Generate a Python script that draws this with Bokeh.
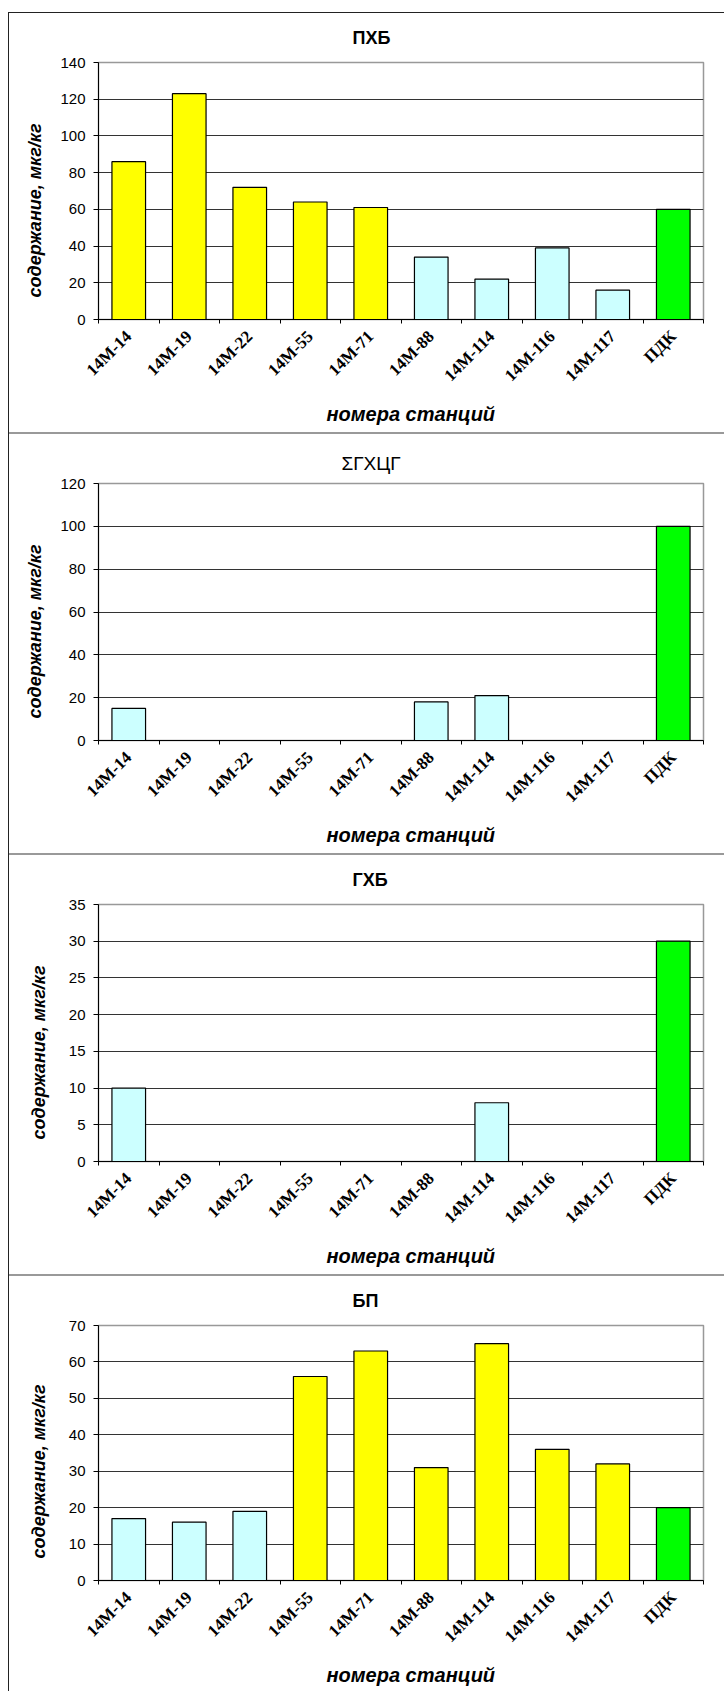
from bokeh.plotting import figure
from bokeh.models import ColumnDataSource, FixedTicker, Div, Title
from bokeh.layouts import column, row
from bokeh.embed import file_html
from bokeh.resources import INLINE

# Sampling stations; the last column is the permissible limit (ПДК)
stations = ["14M-14", "14M-19", "14M-22", "14M-55", "14M-71",
            "14M-88", "14M-114", "14M-116", "14M-117", "ПДК"]

# Contents, мкг/кг (0 = not detected, no bar drawn)
pcb = [86, 123, 72, 64, 61, 34, 22, 39, 16, 60]        # ПХБ
hch_sum = [15, 0, 0, 0, 0, 18, 21, 0, 0, 100]          # ΣГХЦГ
hcb = [10, 0, 0, 0, 0, 0, 8, 0, 0, 30]                 # ГХБ
bap = [17, 16, 19, 56, 63, 31, 65, 36, 32, 20]         # БП

y_limits = [140, 120, 35, 70]
y_steps = [20, 20, 5, 10]
titles = ["ПХБ", "ΣГХЦГ", "ГХБ", "БП"]

Y_LABEL = "содержание, мкг/кг"
X_LABEL = "номера станций"

ABOVE = "#FFFF00"   # exceeds the limit
BELOW = "#CCFFFF"   # within the limit
LIMIT = "#00FF00"   # the limit itself

SANS = "Liberation Sans"
SERIF = "Liberation Serif"

FIG_W = 715
FRAME_L, FRAME_R, FRAME_T, FRAME_H = 89, 21, 49, 257


def make_panel(title, values, ymax, ystep, height, bold_title, title_standoff, ylab_standoff):
    n = len(stations)
    limit = values[-1]
    xs, tops, fills = [], [], []
    for i, (name, v) in enumerate(zip(stations, values)):
        if v <= 0:
            continue
        xs.append(i + 0.5)
        tops.append(v)
        if name == "ПДК":
            fills.append(LIMIT)
        elif v > limit:
            fills.append(ABOVE)
        else:
            fills.append(BELOW)
    src = ColumnDataSource(dict(x=xs, top=tops, fill=fills))

    p = figure(width=FIG_W, height=height, x_range=(0, n), y_range=(0, ymax),
               output_backend="svg", toolbar_location=None,
               min_border_left=FRAME_L, min_border_right=FRAME_R,
               min_border_top=FRAME_T, min_border_bottom=height - FRAME_T - FRAME_H)
    p.background_fill_color = "white"
    p.border_fill_color = "white"
    p.outline_line_color = "#999999"
    p.outline_line_width = 1.5

    p.title = Title(text=title, align="left", offset=254 if bold_title else 243,
                    vertical_align="middle",
                    text_font=SANS, text_font_size="18px" if bold_title else "19px",
                    text_font_style="bold" if bold_title else "normal",
                    text_color="black", standoff=title_standoff)

    p.vbar(x="x", top="top", bottom=0, width=0.5556, source=src,
           fill_color="fill", line_color="black", line_width=1.2)

    # y axis
    yt = list(range(0, ymax + 1, ystep))
    p.yaxis.ticker = FixedTicker(ticks=yt)
    p.ygrid.ticker = FixedTicker(ticks=yt[:-1])
    p.ygrid.grid_line_color = "#333333"
    p.ygrid.grid_line_width = 1
    p.yaxis.axis_line_color = "black"
    p.yaxis.major_tick_line_color = "black"
    p.yaxis.major_tick_out = 5
    p.yaxis.major_tick_in = 0
    p.yaxis.minor_tick_line_color = None
    p.yaxis.major_label_standoff = 8
    p.yaxis.major_label_text_font = SANS
    p.yaxis.major_label_text_font_size = "15px"
    p.yaxis.major_label_text_color = "black"

    # x axis: labels at bar centres, ticks at category boundaries
    centers = [i + 0.5 for i in range(n)]
    p.xaxis.ticker = FixedTicker(ticks=centers, minor_ticks=list(range(n + 1)))
    p.xaxis.major_label_overrides = {c: s for c, s in zip(centers, stations)}
    p.xaxis.major_tick_out = 0
    p.xaxis.major_tick_in = 0
    p.xaxis.minor_tick_out = 4
    p.xaxis.minor_tick_in = 0
    p.xaxis.minor_tick_line_color = "black"
    p.xaxis.axis_line_color = "black"
    p.xaxis.major_label_orientation = 0.785398
    p.xaxis.major_label_standoff = 10
    p.xaxis.major_label_text_font = SERIF
    p.xaxis.major_label_text_font_size = "17px"
    p.xaxis.major_label_text_font_style = "bold"
    p.xaxis.major_label_text_color = "black"
    p.xgrid.visible = False

    # axis titles
    p.add_layout(Title(text=X_LABEL, align="left", offset=228, standoff=12,
                       text_font=SANS, text_font_size="20px",
                       text_font_style="bold italic", text_color="black"), "below")
    p.add_layout(Title(text=Y_LABEL, align="left", offset=22, standoff=ylab_standoff,
                       text_font=SANS, text_font_size="18px",
                       text_font_style="bold italic", text_color="black"), "left")
    return p


p1 = make_panel(titles[0], pcb, y_limits[0], y_steps[0], 419, True, 27, 26)
p2 = make_panel(titles[1], hch_sum, y_limits[1], y_steps[1], 419, False, 17, 26)
p3 = make_panel(titles[2], hcb, y_limits[2], y_steps[2], 419, True, 27, 34)
p4 = make_panel(titles[3], bap, y_limits[3], y_steps[3], 415, True, 27, 34)


def separator():
    return Div(text="", width=FIG_W, height=2, margin=0,
               styles={"background-color": "#999999"})


charts = column(p1, separator(), p2, separator(), p3, separator(), p4,
                spacing=0, margin=0)
left_line = Div(text="", width=1, height=419 * 3 + 415 + 6, margin=0,
                styles={"background-color": "#222222"})
top_line = Div(text="", width=FIG_W + 1, height=1, margin=0,
               styles={"background-color": "#222222"})
page = column(top_line, row(left_line, charts, spacing=0, margin=0),
              spacing=0, margin=(12, 0, 0, 8))

open("out.html", "w").write(file_html(page, INLINE))
